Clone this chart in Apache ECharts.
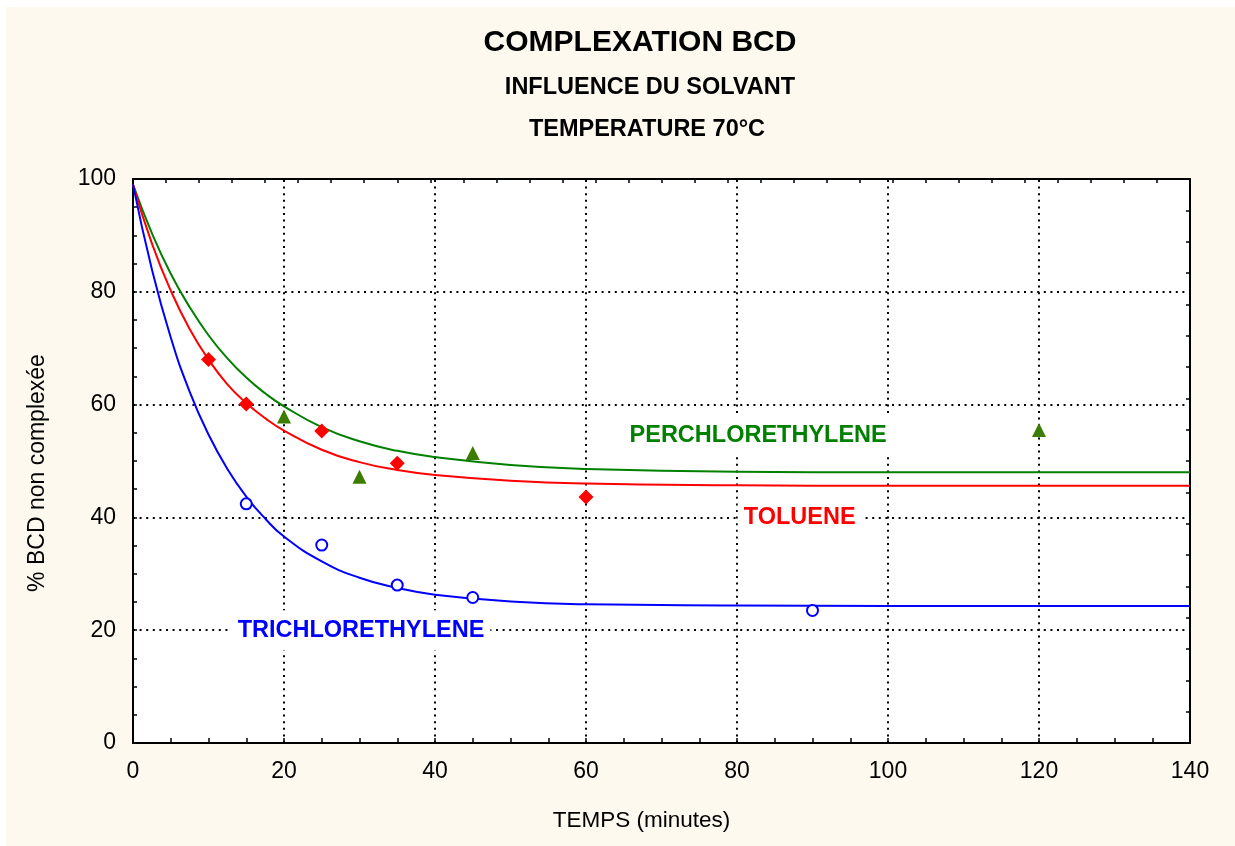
<!DOCTYPE html>
<html>
<head>
<meta charset="utf-8">
<title>Complexation BCD</title>
<script src="https://cdn.jsdelivr.net/npm/echarts@6/dist/echarts.min.js"></script>
<style>
  html, body { margin: 0; padding: 0; background: #ffffff; }
  #chart { position: absolute; left: 6px; top: 7px; width: 1229px; height: 839px; }
</style>
</head>
<body>
<div id="chart"></div>
<script>
// Measured points: time (minutes) and % BCD non complexée
const tolueneTimes = [10, 15, 25, 35, 60];
const tolueneValues = [68.0, 60.1, 55.3, 49.6, 43.6];

const perchloroTimes = [20, 30, 45, 120];
const perchloroValues = [57.9, 47.2, 51.4, 55.5];

const trichloroTimes = [15, 25, 35, 45, 90];
const trichloroValues = [42.4, 35.1, 28.0, 25.8, 23.5];

// Fitted decay curves, sampled along the time axis
const curveTimes = [0, 2.5, 5, 7.5, 10, 12.5, 15, 17.5, 20, 25, 30, 35, 40, 50, 60, 80, 100, 140];
const tolueneCurve = [99.0, 88.6, 80.2, 73.4, 68.0, 63.6, 60.3, 57.6, 55.4, 52.0, 49.8, 48.4, 47.5, 46.5, 46.0, 45.7, 45.6, 45.6];
const perchloroCurve = [99.0, 90.4, 83.2, 77.3, 72.3, 68.2, 64.8, 62.0, 59.7, 56.0, 53.5, 51.8, 50.7, 49.3, 48.6, 48.1, 48.0, 48.0];
const trichloroCurve = [99.0, 84.0, 71.9, 62.3, 54.7, 48.6, 43.7, 39.8, 36.6, 32.2, 29.3, 27.5, 26.3, 25.1, 24.6, 24.4, 24.3, 24.3];

// Solvent captions and where they sit (time, %)
const solventNames = ['PERCHLORETHYLENE', 'TOLUENE', 'TRICHLORETHYLENE'];
const captionTimes = [82.8, 88.3, 30.2];
const captionValues = [54.6, 40.0, 20.0];

// Axis ranges and dotted grid positions
const xRange = [0, 140];
const yRange = [0, 100];
const xGrid = [20, 40, 60, 80, 100, 120];
const yGrid = [20, 40, 60, 80];

const FONT = '"Liberation Sans", Arial, sans-serif';
const colors = { toluene: '#ff0000', perchloro: '#008000', perchloroMark: '#3c7c00', trichloro: '#0000ff' };
const captionColors = [colors.perchloro, colors.toluene, colors.trichloro];

const zip = (xs, ys) => xs.map((x, i) => [x, ys[i]]);

const chart = echarts.init(document.getElementById('chart'), null, { renderer: 'canvas' });

const axisLineStyle = { color: '#000', width: 2 };
const tickStyle = { color: '#000', width: 1.5 };
const dotted = { color: '#000', width: 2, type: [2, 4.6] };

const titleText = (text, x, y, size) => ({
  type: 'text', silent: true,
  style: { text, x, y, textAlign: 'center', textVerticalAlign: 'middle', font: 'bold ' + size + 'px ' + FONT, fill: '#000' }
});

const option = {
  backgroundColor: '#fdf9ef',
  animation: false,
  textStyle: { fontFamily: FONT },
  graphic: [
    titleText('COMPLEXATION BCD', 634, 36, 30),
    titleText('INFLUENCE DU SOLVANT', 644, 80.5, 23.5),
    titleText('TEMPERATURE 70°C', 641, 123, 23.5)
  ],
  grid: { left: 127, top: 172, width: 1057, height: 564, show: true, backgroundColor: '#ffffff', borderWidth: 0 },
  xAxis: [
    {
      type: 'value', position: 'bottom', min: xRange[0], max: xRange[1], interval: 5,
      name: 'TEMPS (minutes)', nameLocation: 'middle', nameGap: 66,
      nameTextStyle: { fontSize: 22.5, color: '#000', fontFamily: FONT, padding: [0, 40, 0, 0] },
      axisLine: { show: true, onZero: false, lineStyle: axisLineStyle },
      axisTick: { show: true, inside: true, length: 5, lineStyle: tickStyle },
      axisLabel: { fontSize: 23, color: '#000', margin: 17, fontFamily: FONT,
        formatter: v => (v % 20 === 0 ? String(v) : '') },
      splitLine: { show: false }
    },
    {
      type: 'value', position: 'top', min: 0, max: 32, interval: 1,
      axisLine: { show: true, onZero: false, lineStyle: axisLineStyle },
      axisTick: { show: true, inside: true, length: 4, lineStyle: tickStyle },
      axisLabel: { show: false }, splitLine: { show: false }
    }
  ],
  yAxis: [
    {
      type: 'value', position: 'left', min: yRange[0], max: yRange[1], interval: 5,
      name: '% BCD non complexée', nameLocation: 'middle', nameGap: 84,
      nameTextStyle: { fontSize: 23, color: '#000', fontFamily: FONT, padding: [0, 24, 0, 0] },
      axisLine: { show: true, onZero: false, lineStyle: axisLineStyle },
      axisTick: { show: true, inside: true, length: 4, lineStyle: tickStyle },
      axisLabel: { fontSize: 23, color: '#000', margin: 17, fontFamily: FONT,
        formatter: v => (v % 20 === 0 ? String(v) : '') },
      splitLine: { show: false }
    },
    {
      type: 'value', position: 'right', min: 0, max: 18, interval: 1,
      axisLine: { show: true, onZero: false, lineStyle: axisLineStyle },
      axisTick: { show: true, inside: true, length: 4, lineStyle: tickStyle },
      axisLabel: { show: false }, splitLine: { show: false }
    }
  ],
  series: [
    {
      // dotted major grid
      name: 'grid', type: 'line', z: 1, data: [], silent: true,
      markLine: {
        z: 1, silent: true, symbol: 'none', animation: false,
        label: { show: false },
        lineStyle: dotted,
        emphasis: { disabled: true },
        data: xGrid.map(x => ({ xAxis: x })).concat(yGrid.map(y => ({ yAxis: y })))
      }
    },
    {
      name: 'captions', type: 'scatter', z: 2, symbolSize: 1, silent: true,
      itemStyle: { color: 'rgba(0,0,0,0)', opacity: 1 },
      data: solventNames.map((n, i) => ({
        name: n, value: [captionTimes[i], captionValues[i]],
        label: { color: captionColors[i] }
      })),
      label: {
        show: true, position: 'inside', formatter: p => p.name,
        fontSize: 23.5, fontWeight: 'bold', fontFamily: FONT,
        backgroundColor: '#ffffff', padding: [8, 6]
      }
    },
    { name: 'Perchlorethylene fit', type: 'line', smooth: true, showSymbol: false, z: 3,
      lineStyle: { color: colors.perchloro, width: 2 }, data: zip(curveTimes, perchloroCurve) },
    { name: 'Toluene fit', type: 'line', smooth: true, showSymbol: false, z: 3,
      lineStyle: { color: colors.toluene, width: 2 }, data: zip(curveTimes, tolueneCurve) },
    { name: 'Trichlorethylene fit', type: 'line', smooth: true, showSymbol: false, z: 3,
      lineStyle: { color: colors.trichloro, width: 2 }, data: zip(curveTimes, trichloroCurve) },
    { name: 'Perchlorethylene', type: 'scatter', symbol: 'triangle', symbolSize: [14, 14], z: 4,
      itemStyle: { color: colors.perchloroMark, opacity: 1 }, data: zip(perchloroTimes, perchloroValues) },
    { name: 'Toluene', type: 'scatter', symbol: 'diamond', symbolSize: [15, 15], z: 4,
      itemStyle: { color: colors.toluene, opacity: 1 }, data: zip(tolueneTimes, tolueneValues) },
    { name: 'Trichlorethylene', type: 'scatter', symbol: 'circle', symbolSize: 11, z: 4,
      itemStyle: { color: '#ffffff', borderColor: colors.trichloro, borderWidth: 2, opacity: 1 },
      data: zip(trichloroTimes, trichloroValues) }
  ]
};

chart.setOption(option);
</script>
</body>
</html>
